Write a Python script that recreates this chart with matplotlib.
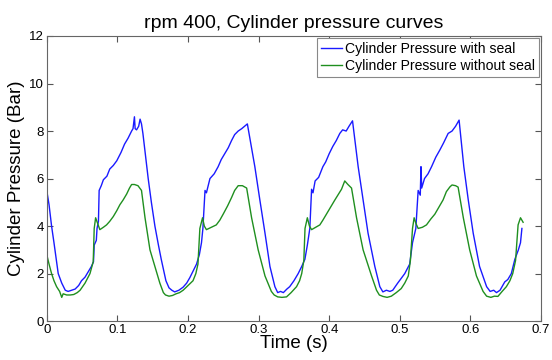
import numpy as np
from matplotlib import pyplot as plt

plt.rcParams['font.family'] = ['Liberation Sans', 'DejaVu Sans']

# с уплотнением (with seal)
t_seal = [0.000, 0.003, 0.0066, 0.010, 0.016, 0.021, 0.026, 0.030, 0.035, 0.040,
          0.045, 0.049, 0.054, 0.058, 0.063, 0.066, 0.067, 0.070, 0.071, 0.073,
          0.074, 0.077, 0.080, 0.085, 0.089, 0.094, 0.099, 0.105, 0.110, 0.115,
          0.120, 0.122, 0.124, 0.125, 0.127, 0.130, 0.132, 0.134, 0.136, 0.140,
          0.1435, 0.148, 0.153, 0.158, 0.162, 0.1686, 0.173, 0.177, 0.181, 0.187,
          0.193, 0.198, 0.2025, 0.207, 0.212, 0.216, 0.219, 0.221, 0.224, 0.226,
          0.2285, 0.231, 0.237, 0.2426, 0.247, 0.252, 0.257, 0.2616, 0.266, 0.271,
          0.276, 0.280, 0.284, 0.2946, 0.3017, 0.309, 0.316, 0.323, 0.327, 0.331,
          0.335, 0.340, 0.344, 0.350, 0.356, 0.361, 0.3655, 0.369, 0.3725, 0.375,
          0.377, 0.380, 0.385, 0.391, 0.395, 0.400, 0.405, 0.410, 0.415, 0.419,
          0.424, 0.428, 0.433, 0.441, 0.448, 0.455, 0.4646, 0.4717, 0.476, 0.481,
          0.486, 0.490, 0.497, 0.502, 0.507, 0.514, 0.518, 0.5227, 0.526, 0.529,
          0.530, 0.531, 0.535, 0.540, 0.545, 0.551, 0.5567, 0.562, 0.5685, 0.574,
          0.579, 0.584, 0.5907, 0.597, 0.604, 0.613, 0.623, 0.628, 0.633, 0.637,
          0.642, 0.6487, 0.653, 0.658, 0.663, 0.668, 0.671, 0.673]
p_seal = [5.45, 4.9, 4.0, 3.3, 2.0, 1.6, 1.3, 1.25, 1.3, 1.35,
          1.5, 1.7, 1.85, 2.05, 2.3, 2.5, 3.2, 3.4, 3.9, 4.2,
          5.5, 5.7, 5.95, 6.1, 6.4, 6.55, 6.75, 7.1, 7.45, 7.7,
          8.0, 8.1, 8.6, 8.1, 8.05, 8.2, 8.5, 8.3, 7.9, 6.9,
          6.0, 5.0, 4.0, 3.2, 2.6, 1.7, 1.4, 1.3, 1.23, 1.3,
          1.43, 1.6, 1.83, 2.1, 2.4, 2.8, 3.3, 3.9, 5.5, 5.4,
          5.7, 6.0, 6.2, 6.5, 6.8, 7.05, 7.3, 7.6, 7.85, 8.0,
          8.1, 8.2, 8.3, 6.5, 5.1, 3.7, 2.3, 1.45, 1.2, 1.25,
          1.2, 1.35, 1.45, 1.7, 2.0, 2.3, 2.6, 3.2, 3.9, 5.55,
          5.4, 5.9, 6.05, 6.5, 6.7, 7.05, 7.35, 7.6, 7.9, 8.05,
          8.0, 8.2, 8.43, 6.5, 5.1, 3.7, 2.3, 1.45, 1.23, 1.3,
          1.25, 1.3, 1.6, 1.8, 2.0, 2.4, 3.3, 3.9, 5.5, 5.3,
          6.5, 5.6, 6.0, 6.2, 6.5, 6.9, 7.2, 7.5, 7.9, 8.0,
          8.2, 8.46, 6.5, 5.1, 3.7, 2.3, 1.45, 1.25, 1.3, 1.2,
          1.3, 1.65, 1.75, 2.0, 2.6, 3.0, 3.3, 3.9]

# без уплотнения (without seal)
t_noseal = [0.000, 0.003, 0.0066, 0.010, 0.0137, 0.018, 0.021, 0.023, 0.028, 0.033,
            0.038, 0.043, 0.047, 0.054, 0.061, 0.0656, 0.067, 0.069, 0.072, 0.075,
            0.080, 0.0845, 0.089, 0.094, 0.099, 0.1034, 0.108, 0.113, 0.117, 0.120,
            0.124, 0.129, 0.134, 0.139, 0.146, 0.153, 0.160, 0.165, 0.168, 0.173,
            0.178, 0.183, 0.188, 0.193, 0.200, 0.207, 0.211, 0.214, 0.2167, 0.2205,
            0.223, 0.226, 0.233, 0.240, 0.245, 0.2497, 0.256, 0.2616, 0.266, 0.271,
            0.277, 0.283, 0.290, 0.2993, 0.309, 0.318, 0.322, 0.327, 0.333, 0.3395,
            0.346, 0.3537, 0.358, 0.361, 0.364, 0.3657, 0.369, 0.372, 0.375, 0.381,
            0.3867, 0.391, 0.396, 0.402, 0.408, 0.4174, 0.422, 0.4265, 0.4316, 0.4387,
            0.448, 0.460, 0.467, 0.471, 0.476, 0.482, 0.488, 0.495, 0.502, 0.507,
            0.512, 0.515, 0.518, 0.5203, 0.523, 0.526, 0.532, 0.5378, 0.544, 0.5496,
            0.5555, 0.5613, 0.566, 0.571, 0.574, 0.579, 0.5826, 0.590, 0.599, 0.6086,
            0.618, 0.623, 0.629, 0.634, 0.639, 0.645, 0.651, 0.656, 0.660, 0.664,
            0.6676, 0.671, 0.6747]
p_noseal = [2.77, 2.4, 2.0, 1.7, 1.45, 1.25, 1.0, 1.15, 1.1, 1.1,
            1.12, 1.2, 1.3, 1.6, 2.0, 2.5, 3.9, 4.35, 4.1, 3.85,
            3.95, 4.05, 4.2, 4.4, 4.65, 4.9, 5.1, 5.35, 5.6, 5.75,
            5.75, 5.7, 5.5, 4.35, 3.0, 2.3, 1.6, 1.2, 1.1, 1.05,
            1.08, 1.15, 1.2, 1.3, 1.5, 1.7, 2.0, 2.4, 3.9, 4.35,
            4.0, 3.85, 3.95, 4.05, 4.25, 4.5, 4.85, 5.2, 5.5, 5.7,
            5.7, 5.6, 4.35, 3.0, 1.9, 1.25, 1.1, 1.02, 1.0, 1.02,
            1.2, 1.45, 1.7, 2.0, 2.55, 3.9, 4.35, 4.0, 3.85, 3.95,
            4.05, 4.25, 4.5, 4.8, 5.1, 5.55, 5.9, 5.75, 5.6, 4.35,
            3.0, 1.9, 1.3, 1.1, 1.04, 1.0, 1.05, 1.2, 1.37, 1.6,
            1.9, 2.55, 3.9, 4.35, 4.1, 3.9, 3.95, 4.05, 4.3, 4.5,
            4.8, 5.1, 5.45, 5.65, 5.73, 5.7, 5.64, 4.35, 3.0, 1.9,
            1.25, 1.05, 1.0, 1.05, 1.04, 1.25, 1.45, 1.7, 2.0, 2.55,
            4.05, 4.35, 4.16]

xticks = [0, 0.1, 0.2, 0.3, 0.4, 0.5, 0.6, 0.7]
xticklabels = ['0', '0.1', '0.2', '0.3', '0.4', '0.5', '0.6', '0.7']
yticks = [0, 2, 4, 6, 8, 10, 12]

fig, ax = plt.subplots(figsize=(5.52, 3.6), dpi=100)
fig.subplots_adjust(left=0.085, right=0.98, bottom=0.108, top=0.900)

ax.plot(t_seal, p_seal, c='#1a1aff', lw=1, label='Cylinder Pressure with seal')
ax.plot(t_noseal, p_noseal, c='#1f8f1f', lw=1, label='Cylinder Pressure without seal')

ax.set_xlim(0, 0.7)
ax.set_ylim(0, 12)
ax.set_xticks(xticks)
ax.set_xticklabels(xticklabels)
ax.set_yticks(yticks)
ax.tick_params(direction='in', top=True, right=True, labelsize=9.5, length=4, pad=2,
               color='#555555')
for s in ax.spines.values():
    s.set_color('#666666')

ax.set_xlabel('Time (s)', fontsize=13.5, labelpad=-1)
ax.set_ylabel('Cylinder Pressure (Bar)', fontsize=13.5, labelpad=3)
ax.set_title('rpm 400, Cylinder pressure curves', fontsize=14, pad=6)

leg = ax.legend(loc='upper right', fontsize=10.1, handlelength=1.5, handletextpad=0.2,
                borderaxespad=0.15, fancybox=False, framealpha=1, borderpad=0.3,
                labelspacing=0.2)
leg.get_frame().set_edgecolor('#888888')
leg.get_frame().set_linewidth(0.8)

plt.savefig('out.png', dpi=100)
